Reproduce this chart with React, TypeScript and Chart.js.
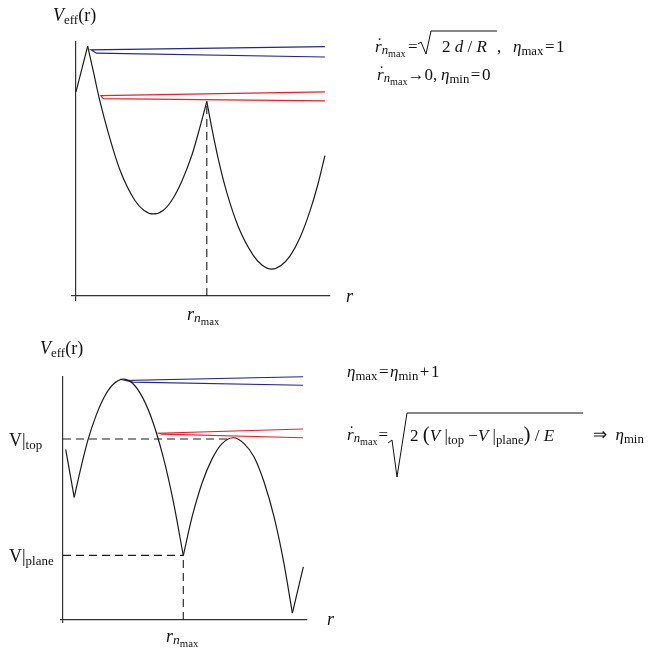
import React, { useEffect, useRef } from "react";
import { Chart, registerables } from "chart.js";
Chart.register(...registerables);

// ---------- TOP PANEL (r and V_eff in arbitrary units, 0..100) ----------
const topRiseR = [0, 4.6];
const topRiseV = [80.4, 98.4];
const topWellAR = [4.6, 6.7, 9.4, 12.6, 17.3, 23.2, 26.8, 30.4, 34.3, 37.8, 41.7, 45.7, 48.8, 51.5];
const topWellAV = [98.4, 89.0, 76.8, 64.6, 49.6, 37.6, 33.7, 32.3, 33.7, 37.8, 45.3, 55.7, 66.5, 76.6];
const topWellBR = [51.5, 53.4, 56.0, 59.3, 63.9, 69.8, 73.2, 77.0, 80.7, 84.3, 88.2, 92.1, 95.3, 98.0];
const topWellBV = [76.6, 66.5, 54.0, 41.0, 27.3, 16.0, 12.2, 10.6, 12.0, 15.8, 23.0, 33.4, 44.2, 55.3];
const topRnMax = 51.5;
const topCuspV = 76.6;
const topBlueR = [98.0, 5.9, 8.1, 98.0];
const topBlueV = [98.2, 96.9, 95.6, 94.1];
const topRedR = [98.0, 9.8, 10.7, 98.0];
const topRedV = [80.4, 78.9, 77.7, 76.8];

// ---------- BOTTOM PANEL ----------
const botStartR = [1.1, 4.6];
const botStartV = [70.2, 50.5];
const botArchAR = [4.6, 7.0, 10.2, 13.5, 16.8, 20.5, 24.7, 28.7, 32.8, 36.9, 41.0, 45.1, 49.3];
const botArchAV = [50.5, 61.2, 74.0, 84.0, 91.6, 96.9, 99.1, 97.2, 91.2, 81.3, 67.3, 49.3, 26.5];
const botArchBR = [49.3, 52.9, 57.0, 61.1, 65.2, 69.8, 74.2, 78.3, 82.4, 86.5, 90.6, 94.0];
const botArchBV = [26.5, 42.4, 56.4, 66.3, 72.6, 75.0, 72.6, 67.1, 56.8, 42.4, 23.0, 2.8];
const botEndR = [94.0, 98.5];
const botEndV = [2.8, 21.9];
const vTop = 74.5;
const vTopEndR = 67.2;
const vPlane = 26.6;
const botRnMax = 49.3;
const botBlueR = [98.4, 25.7, 28.7, 98.4];
const botBlueV = [100.1, 98.6, 97.9, 96.6];
const botRedR = [98.4, 39.3, 40.5, 98.4];
const botRedV = [78.6, 76.9, 76.5, 75.0];

const zip = (xs: number[], ys: number[]) => xs.map((x, i) => ({ x, y: ys[i] }));

const BLACK = "#1c1c1c";
const BLUE = "#26268a";
const RED = "#e8222c";

const curve = (data: any[], color = BLACK, smooth = true) => ({
  data,
  showLine: true,
  borderColor: color,
  borderWidth: 1.2,
  pointRadius: 0,
  clip: false as any,
  cubicInterpolationMode: smooth ? ("monotone" as const) : ("default" as const),
  tension: 0,
});
const dashed = (data: any[]) => ({
  data,
  showLine: true,
  borderColor: BLACK,
  borderWidth: 1.1,
  borderDash: [8, 5],
  pointRadius: 0,
  clip: false as any,
  tension: 0,
});

function axisScale(tick: number) {
  return {
    type: "linear" as const,
    min: 0,
    max: 100,
    grid: {
      display: true,
      drawOnChartArea: false,
      drawTicks: true,
      tickLength: tick,
      color: "#333",
      lineWidth: 1.2,
    },
    border: { display: true, color: "#333", width: 1.2 },
    ticks: { display: false },
    afterBuildTicks: (s: any) => {
      s.ticks = [{ value: 0 }];
    },
  };
}

function makeChart(canvas: HTMLCanvasElement, datasets: any[], padding: any, tick: number) {
  return new Chart(canvas, {
    type: "scatter",
    data: { datasets },
    options: {
      animation: false,
      responsive: false,
      events: [],
      layout: { padding },
      plugins: { legend: { display: false }, tooltip: { enabled: false } },
      scales: { x: axisScale(tick), y: axisScale(tick) },
    },
  });
}

const Txt = ({ x, y, s, children }: any) => (
  <div
    style={{
      position: "absolute",
      left: x,
      top: y - 0.8375 * s,
      fontSize: s,
      lineHeight: `${s}px`,
      whiteSpace: "nowrap",
      color: "#111",
    }}
  >
    {children}
  </div>
);
const Sub = ({ children, k = 0.75, dy = 0.28 }: any) => (
  <span style={{ fontSize: `${k}em`, position: "relative", top: `${dy}em`, lineHeight: 0 }}>{children}</span>
);
const Op = ({ children, m = 0.09 }: any) => <span style={{ margin: `0 ${m}em` }}>{children}</span>;
const RDot = () => (
  <span style={{ position: "relative", display: "inline-block" }}>
    <i>r</i>
    <span style={{ position: "absolute", left: "0.1em", top: "-0.15em" }}>˙</span>
  </span>
);
const NMax = () => (
  <Sub k={0.75} dy={0.14}>
    <i>n</i>
    <Sub k={0.8} dy={0.32}>max</Sub>
  </Sub>
);

export default function App() {
  const topRef = useRef<HTMLCanvasElement>(null);
  const botRef = useRef<HTMLCanvasElement>(null);

  useEffect(() => {
    const c1 = makeChart(
      topRef.current!,
      [
        curve(zip(topRiseR, topRiseV), BLACK, false),
        curve(zip(topWellAR, topWellAV)),
        curve(zip(topWellBR, topWellBV)),
        dashed([{ x: topRnMax, y: 0 }, { x: topRnMax, y: topCuspV }]),
        curve(zip(topBlueR, topBlueV), BLUE, false),
        curve(zip(topRedR, topRedV), RED, false),
      ],
      { left: 71, right: 10, top: 42, bottom: 19 },
      5
    );
    const c2 = makeChart(
      botRef.current!,
      [
        curve(zip(botStartR, botStartV), BLACK, false),
        curve(zip(botArchAR, botArchAV)),
        curve(zip(botArchBR, botArchBV)),
        curve(zip(botEndR, botEndV), BLACK, false),
        dashed([{ x: 0, y: vTop }, { x: vTopEndR, y: vTop }]),
        dashed([{ x: 0, y: vPlane }, { x: botRnMax, y: vPlane }]),
        dashed([{ x: botRnMax, y: 0 }, { x: botRnMax, y: vPlane }]),
        curve(zip(botBlueR, botBlueV), BLUE, false),
        curve(zip(botRedR, botRedV), RED, false),
      ],
      { left: 60, right: 33, top: 47, bottom: 17 },
      3
    );
    return () => {
      c1.destroy();
      c2.destroy();
    };
  }, []);

  return (
    <div
      style={{
        position: "absolute",
        left: 0,
        top: 0,
        width: 650,
        height: 654,
        background: "#fff",
        fontFamily: "'Liberation Serif', 'Times New Roman', serif",
        overflow: "hidden",
      }}
    >
      <canvas ref={topRef} width={340} height={320} style={{ position: "absolute", left: 0, top: 0, width: 340, height: 320 }} />
      <canvas ref={botRef} width={340} height={310} style={{ position: "absolute", left: 0, top: 330, width: 340, height: 310 }} />

      <svg width={650} height={654} style={{ position: "absolute", left: 0, top: 0, pointerEvents: "none" }}>
        <polyline points="418,44 421,42 426,54 431,31 497,31" fill="none" stroke="#111" strokeWidth={1} />
        <polyline points="388,443 392,440 397,477 407,413 583,413" fill="none" stroke="#111" strokeWidth={1} />
      </svg>

      {/* top panel labels */}
      <Txt x={53} y={21} s={18}>
        <i>V</i>
        <Sub k={0.72} dy={0.25}>eff</Sub>(r)
      </Txt>
      <Txt x={187} y={320} s={18}>
        <i>r</i>
        <NMax />
      </Txt>
      <Txt x={346} y={302} s={18}>
        <i>r</i>
      </Txt>

      {/* top right formulas */}
      <Txt x={375} y={52} s={17}>
        <RDot />
        <NMax />
      </Txt>
      <Txt x={408} y={52} s={17}>
        =
      </Txt>
      <Txt x={442} y={52} s={17}>
        2 <i>d</i> / <i>R</i>
      </Txt>
      <Txt x={497} y={52} s={17}>
        ,
      </Txt>
      <Txt x={513} y={52} s={17}>
        <i>η</i>
        <Sub>max</Sub>
        <Op>=</Op>1
      </Txt>
      <Txt x={377} y={80} s={17}>
        <RDot />
        <NMax />→0,
      </Txt>
      <Txt x={441} y={80} s={17}>
        <i>η</i>
        <Sub>min</Sub>
        <Op>=</Op>0
      </Txt>

      {/* bottom panel labels */}
      <Txt x={40} y={354} s={18}>
        <i>V</i>
        <Sub k={0.72} dy={0.25}>eff</Sub>(r)
      </Txt>
      <Txt x={9} y={446} s={18}>
        V|<Sub k={0.72} dy={0.25}>top</Sub>
      </Txt>
      <Txt x={9} y={562} s={18}>
        V|<Sub k={0.72} dy={0.25}>plane</Sub>
      </Txt>
      <Txt x={327} y={625} s={18}>
        <i>r</i>
      </Txt>
      <Txt x={166} y={642} s={18}>
        <i>r</i>
        <NMax />
      </Txt>

      {/* bottom right formulas */}
      <Txt x={347} y={377} s={17}>
        <i>η</i>
        <Sub>max</Sub>
        <Op>=</Op>
        <i>η</i>
        <Sub>min</Sub>
        <Op>+</Op>1
      </Txt>
      <Txt x={347} y={440} s={17}>
        <RDot />
        <NMax />
        <Op m={0.05}>=</Op>
      </Txt>
      <Txt x={410} y={440} s={17}>
        2 <span style={{ fontSize: 21 }}>(</span>
        <i>V</i> |<Sub>top</Sub> −<i>V</i> |<Sub>plane</Sub>
        <span style={{ fontSize: 21 }}>)</span> / <i>E</i>
      </Txt>
      <Txt x={593} y={440} s={17}>
        ⇒&nbsp; <i>η</i>
        <Sub>min</Sub>
      </Txt>
    </div>
  );
}
